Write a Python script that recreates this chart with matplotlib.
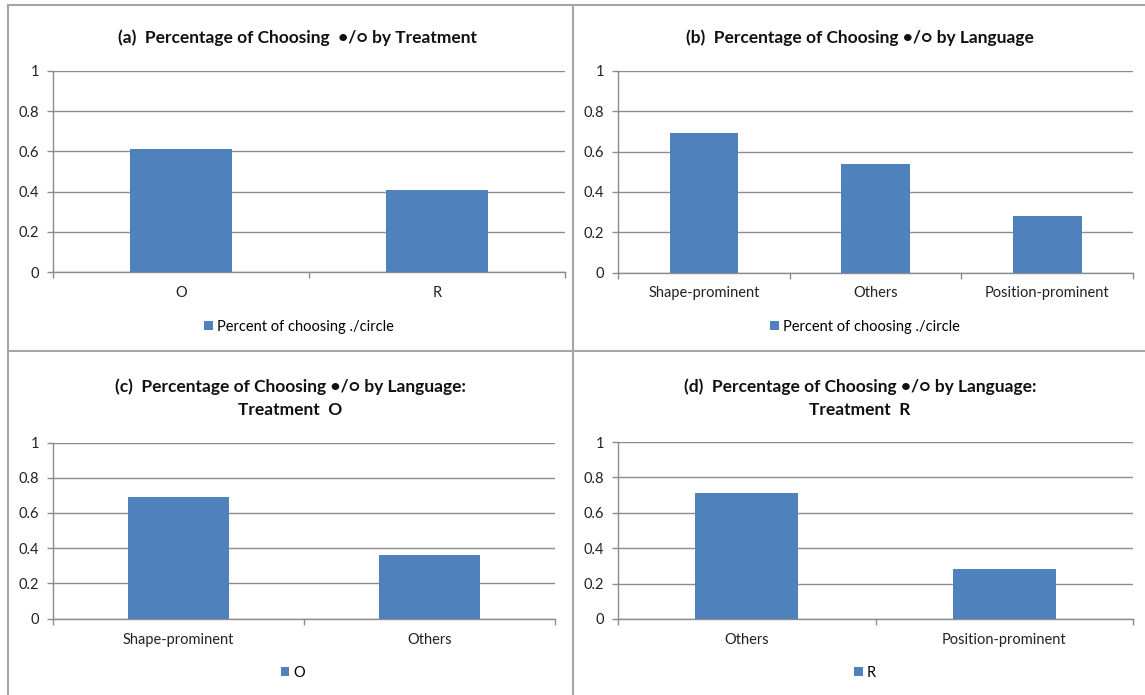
import matplotlib
matplotlib.use("Agg")
import matplotlib.pyplot as plt
from matplotlib.lines import Line2D
from matplotlib.ticker import FuncFormatter
import numpy as np

plt.rcParams['font.family'] = ['Lato', 'DejaVu Sans']

# ---- data ----
treat_cats = ['O', 'R']
treat_vals = [0.61, 0.41]
lang_cats = ['Shape-prominent', 'Others', 'Position-prominent']
lang_vals = [0.69, 0.54, 0.28]
o_cats = ['Shape-prominent', 'Others']
o_vals = [0.69, 0.36]
r_cats = ['Others', 'Position-prominent']
r_vals = [0.71, 0.28]

titles = [
    '(a)  Percentage of Choosing  •/○ by Treatment',
    '(b)  Percentage of Choosing •/○ by Language',
    '(c)  Percentage of Choosing •/○ by Language:\nTreatment  O',
    '(d)  Percentage of Choosing •/○ by Language:\nTreatment  R',
]
legend_labels = ['Percent of choosing ./circle', 'Percent of choosing ./circle', 'O', 'R']
y_ticks = [0, 0.2, 0.4, 0.6, 0.8, 1]

W, H = 1145, 695
fig = plt.figure(figsize=(W / 100, H / 100), dpi=100)

BAR = '#4F81BD'
GRID = '#8C8C8C'
BORDER = '#A6A6A6'

def fx(px):
    return px / W

def fy(py):
    return 1 - py / H

# axes boxes in pixels: (x0, x1, ytop, ybottom)
boxes = [
    (53, 565, 71, 272),
    (618, 1133, 71, 272.5),
    (53, 555, 442.5, 618.7),
    (618, 1133, 442, 619),
]
title_pos = [(297, 38), (860, 38), (290, 398), (860, 398)]
legend_pos = [(299, 327), (865, 327), (293, 673), (865, 673)]
datasets = [(treat_cats, treat_vals), (lang_cats, lang_vals), (o_cats, o_vals), (r_cats, r_vals)]

for i, (cats, vals) in enumerate(datasets):
    x0, x1, yt, yb = boxes[i]
    ax = fig.add_axes([fx(x0), fy(yb), fx(x1 - x0), (yb - yt) / H])
    n = len(cats)
    x = np.arange(n)
    ax.bar(x, vals, width=0.4, color=BAR, zorder=3, label=legend_labels[i])
    ax.set_xlim(-0.5, n - 0.5)
    ax.set_ylim(0, 1)
    ax.set_yticks(y_ticks)
    ax.yaxis.set_major_formatter(FuncFormatter(lambda v, p: '%g' % v))
    ax.grid(axis='y', color=GRID, linewidth=1.0, zorder=0)
    ax.set_xticks(x)
    ax.set_xticklabels(cats)
    ax.set_xticks(np.arange(n + 1) - 0.5, minor=True)
    ax.tick_params(axis='x', which='major', length=0, pad=10, labelsize=10.5, colors='#222222')
    ax.tick_params(axis='x', which='minor', length=4, width=1, color=GRID, direction='out')
    ax.tick_params(axis='y', length=4, width=1, color=GRID, pad=6, labelsize=10.5, labelcolor='#222222')
    for s in ['top', 'right']:
        ax.spines[s].set_visible(False)
    ax.spines['left'].set_color(GRID)
    ax.spines['bottom'].set_color(GRID)
    ax.spines['left'].set_linewidth(1.0)
    ax.spines['bottom'].set_linewidth(1.0)

    tx, ty = title_pos[i]
    fig.text(fx(tx), fy(ty), titles[i], ha='center', va='center', fontsize=12.5,
             fontweight='bold', linespacing=1.5, color='#111111')

    lx, ly = legend_pos[i]
    ax.legend(loc='center', bbox_to_anchor=(fx(lx), fy(ly)), bbox_transform=fig.transFigure,
              frameon=False, fontsize=10.5, handlelength=0.6, handleheight=0.6,
              handletextpad=0.3, borderpad=0)

# panel borders
fig.add_artist(Line2D([fx(8), fx(8)], [fy(5), 0], color=BORDER, lw=1.5))
fig.add_artist(Line2D([fx(8), 1], [fy(5), fy(5)], color=BORDER, lw=1.5))
fig.add_artist(Line2D([fx(573), fx(573)], [fy(5), 0], color=BORDER, lw=1.5))
fig.add_artist(Line2D([fx(8), 1], [fy(351), fy(351)], color=BORDER, lw=1.5))

fig.savefig('out.png', dpi=100)
